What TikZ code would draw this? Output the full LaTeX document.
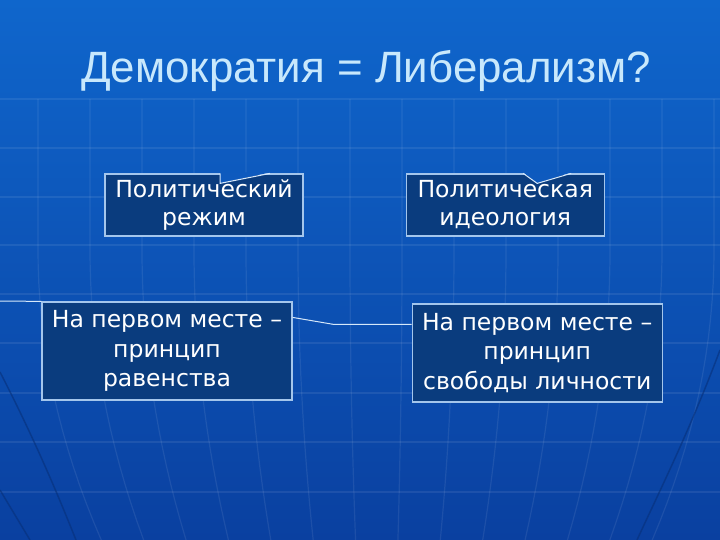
\documentclass[tikz,border=0pt]{standalone}
\usepackage{fontspec}
\setmainfont{DejaVu Sans}
\newfontfamily\titlefont{Liberation Sans}
\usepackage{tikz}
\usetikzlibrary{positioning}
\definecolor{bgtop}{HTML}{0F66CC}
\definecolor{bgbottom}{HTML}{0A40A0}
\definecolor{boxfill}{HTML}{0A3C7E}
\definecolor{boxline}{HTML}{A4C6EC}
\definecolor{titlecol}{HTML}{C8E8FC}
\definecolor{linkcol}{HTML}{D6E8FA}
\definecolor{globeline}{HTML}{07307A}
\tikzset{
    %Define style for boxes
    termbox/.style={
           rectangle,
           draw=boxline, line width=1.2bp,
           fill=boxfill,
           text=white,
           minimum width=198bp,
           minimum height=62bp,
           inner sep=0pt,
           font=\fontsize{23.6}{28}\selectfont,
           align=center,
           },
    principlebox/.style={
           termbox,
           minimum width=250bp,
           minimum height=98bp,
           font=\fontsize{23.6}{29.5}\selectfont,
           },
    titletext/.style={
           anchor=base,
           text=titlecol,
           font=\titlefont\fontsize{44}{50}\selectfont,
           },
    % Define line styles
    link/.style={
           draw=linkcol,
           line width=1bp,
           },
    gridline/.style={draw=white, opacity=0.08, line width=1.2bp},
    globe/.style={draw=globeline, opacity=0.6, line width=1.5bp}
}
\begin{document}
\begin{tikzpicture}[x=1bp, y=-1bp, node distance=102bp, main node/.style={termbox}]
\useasboundingbox (0,0) rectangle (720,540);
% background
\shade[top color=bgtop, bottom color=bgbottom] (0,0) rectangle (720,540);
\foreach \y in {99,148,197,245,294,343,393,442,492}
    \draw[gridline] (0,\y) -- (720,\y);
\foreach \m in {38,90,...,714}
    \draw[gridline] plot[domain=99:540, samples=25]
        ({380+(\m-380)*(1-2.2*(max(\x-250,0)/1000)^2)}, \x);
\draw[globe] (0,372) .. controls (35,440) and (58,495) .. (76,540);
\draw[globe] (0,490) -- (30,540);
\draw[globe] (720,350) .. controls (690,430) and (660,490) .. (637,540);

\node[titletext] (T) at (366,83) {Демократия = Либерализм?};
\node[main node] (R) at (204,205) {Политический\\режим};
\node[main node, right=of R] (I) {Политическая\\идеология};
\node[principlebox] (E) at (167,351) {На первом месте –\\принцип\\равенства};
\node[principlebox, right=119bp of E, yshift=-2bp] (L) {На первом месте –\\принцип\\свободы личности};

% notches on the upper boxes
\coordinate (Rn) at ([xshift=16bp, yshift=-10bp]R.north);
\coordinate (In) at ([xshift=32bp, yshift=-10bp]I.north);
\fill[bgtop!68!bgbottom] ([xshift=16bp, yshift=1bp]R.north) -- (Rn) -- ([xshift=66bp, yshift=1bp]R.north) -- cycle;
\fill[bgtop!68!bgbottom] ([xshift=18bp, yshift=1bp]I.north) -- (In) -- ([xshift=66bp, yshift=1bp]I.north) -- cycle;
\draw[link] ([xshift=16bp]R.north) -- (Rn) -- ([xshift=66bp]R.north);
\draw[link] ([xshift=18bp]I.north) -- (In) -- ([xshift=66bp]I.north);

% lines at the lower boxes
\coordinate (W) at (0,301);
\draw[link] (E.north west) -- (W);
\draw[link] ([yshift=-16bp]E.north east) -- ++(41,7) -- ([yshift=-21bp]L.north west);
\end{tikzpicture}
\end{document}
